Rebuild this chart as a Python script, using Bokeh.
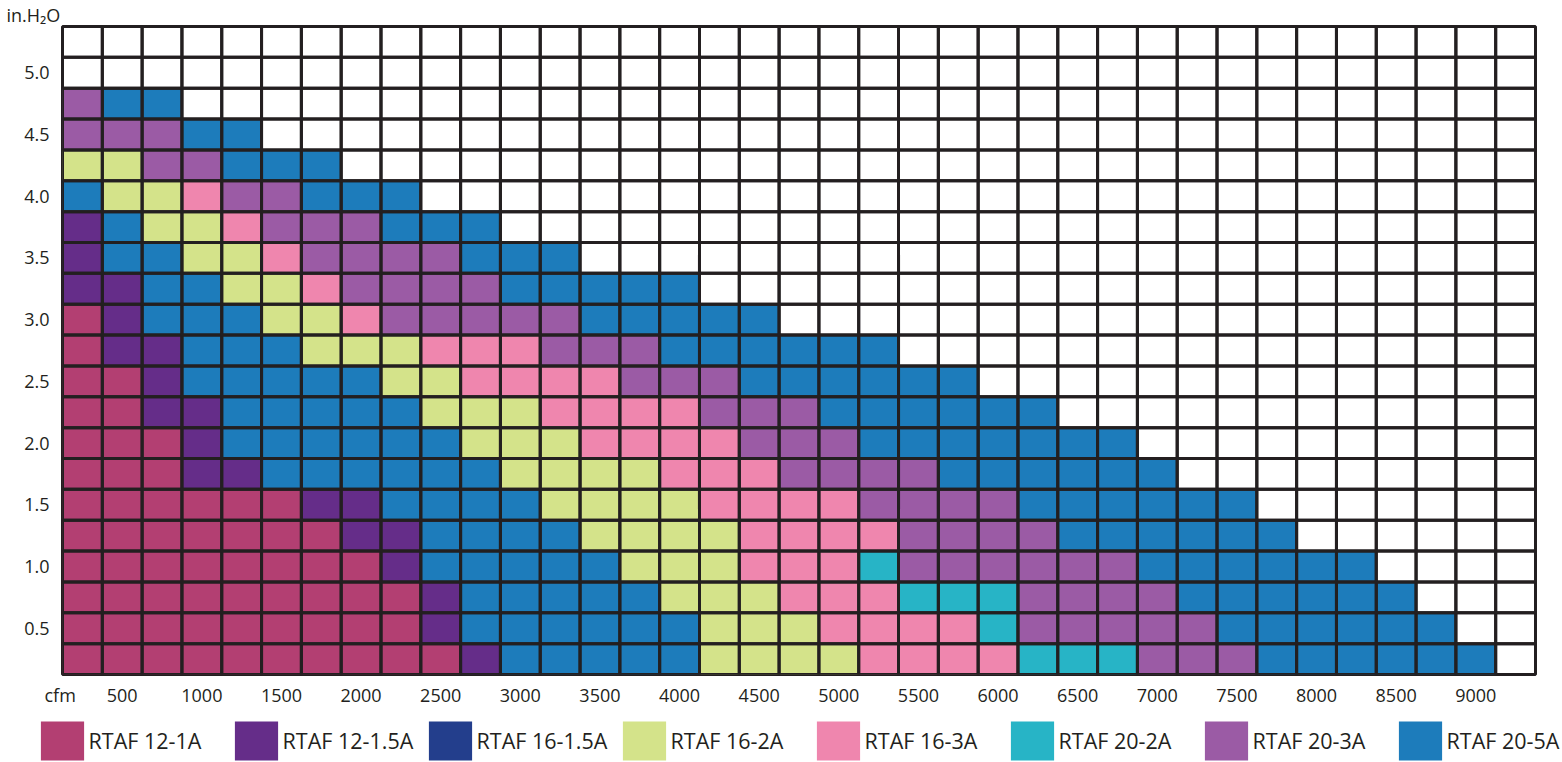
import math
from bokeh.plotting import figure
from bokeh.models import (ColumnDataSource, FixedTicker, Range1d, PrintfTickFormatter,
                          Legend, LegendItem)
from bokeh.embed import file_html
from bokeh.resources import INLINE

# ---------------- data ----------------
MODELS = ["RTAF 12-1A", "RTAF 12-1.5A", "RTAF 16-1.5A", "RTAF 16-2A",
          "RTAF 16-3A", "RTAF 20-2A", "RTAF 20-3A", "RTAF 20-5A"]
MODEL_CODES = ["a", "b", "c", "d", "e", "f", "g", "h"]
COLORS = ["#B33F72", "#652D89", "#233E8C", "#D4E38A",
          "#EF86AE", "#27B4C6", "#9B5BA5", "#1D7CBB"]

CFM_VALUES = [250 * k for k in range(1, 38)]          # 250 ... 9250 cfm (37 columns)
PRESSURE_VALUES = [0.25 * k for k in range(1, 22)]     # 0.25 ... 5.25 in.H2O (21 rows)

X_TICKS = [500, 1000, 1500, 2000, 2500, 3000, 3500, 4000, 4500,
           5000, 5500, 6000, 6500, 7000, 7500, 8000, 8500, 9000]
Y_TICKS = [0.5, 1.0, 1.5, 2.0, 2.5, 3.0, 3.5, 4.0, 4.5, 5.0]
X_UNIT = "cfm"
Y_UNIT = "in.H\u2082O"

# selected model per cell, one string per pressure row (bottom 0.25 -> top 5.25),
# one code per cfm column starting at 250 cfm; cells past the string are empty
ROWS = [
    "aaaaaaaaaabhhhhhddddeeeefffggghhhhhh",   # 0.25
    "aaaaaaaaabhhhhhhdddeeeefggggghhhhhh",    # 0.50
    "aaaaaaaaabhhhhhdddeeefffgggghhhhhh",     # 0.75
    "aaaaaaaabhhhhhdddeeefgggggghhhhhh",      # 1.00
    "aaaaaaabbhhhhddddeeeegggghhhhhh",        # 1.25
    "aaaaaabbhhhhddddeeeegggghhhhhh",         # 1.50
    "aaabbhhhhhhddddeeegggghhhhhh",           # 1.75
    "aaabhhhhhhdddeeeeggghhhhhhh",            # 2.00
    "aabbhhhhhdddeeeeggghhhhhh",              # 2.25
    "aabhhhhhddeeeeggghhhhhh",                # 2.50
    "abbhhhdddeeeggghhhhhh",                  # 2.75
    "abhhhddeggggghhhhh",                     # 3.00
    "bbhhddegggghhhhh",                       # 3.25
    "bhhddegggghhh",                          # 3.50
    "bhddeggghhh",                            # 3.75
    "hddegghhh",                              # 4.00
    "ddgghhh",                                # 4.25
    "ggghh",                                  # 4.50
    "ghh",                                    # 4.75
    "",                                       # 5.00
    "",                                       # 5.25
]

# ---------------- chart ----------------
INK = "#231F20"
FONT = "Open Sans"
W = 1562

p = figure(width=W, height=709, output_backend="svg", toolbar_location=None,
           x_range=Range1d(125, 9375), y_range=Range1d(0.125, 5.375),
           min_border_left=62, min_border_right=27, min_border_top=25, min_border_bottom=33)
p.background_fill_color = "white"
p.border_fill_color = "white"
p.outline_line_color = INK
p.outline_line_width = 3
p.grid.grid_line_color = None

sources = []
for code in MODEL_CODES:
    xs, ys = [], []
    for i, row in enumerate(ROWS):
        for j, c in enumerate(row):
            if c == code:
                xs.append(CFM_VALUES[j])
                ys.append(PRESSURE_VALUES[i])
    if not xs:                      # model not selected in any cell
        xs, ys = [math.nan], [math.nan]
    sources.append(ColumnDataSource(dict(x=xs, y=ys)))

for src, color in zip(sources, COLORS):
    p.rect(x="x", y="y", width=250, height=0.25, source=src,
           fill_color=color, line_color=None)

gx, gy = [], []
for yv in PRESSURE_VALUES:
    for xv in CFM_VALUES:
        gx.append(xv)
        gy.append(yv)
p.rect(x=gx, y=gy, width=250, height=0.25, fill_color=None,
       line_color=INK, line_width=3)

for ax in (p.xaxis[0], p.yaxis[0]):
    ax.axis_line_color = None
    ax.major_tick_line_color = None
    ax.minor_tick_line_color = None
    ax.major_tick_out = 0
    ax.major_tick_in = 0
    ax.minor_tick_out = 0
    ax.minor_tick_in = 0
    ax.major_label_text_font = FONT
    ax.major_label_text_font_size = "18px"
    ax.major_label_text_color = INK

# unit label "cfm" sits at the start of the cfm axis
p.xaxis.ticker = FixedTicker(ticks=[CFM_VALUES[0] - 125] + X_TICKS)
p.xaxis.major_label_overrides = {CFM_VALUES[0] - 125: X_UNIT + "\u00a0"}
p.yaxis.ticker = FixedTicker(ticks=Y_TICKS)
p.yaxis.formatter = PrintfTickFormatter(format="%.1f")
p.xaxis.major_label_standoff = 8
p.yaxis.major_label_standoff = 13

p.title.text = Y_UNIT
p.title.align = "left"
p.title.offset = -56
p.title.standoff = 0
p.title.vertical_align = "bottom"
p.title.text_font = FONT
p.title.text_font_size = "18px"
p.title.text_font_style = "normal"
p.title.text_color = INK

# ---------------- legend strip (separate root, same cell sources) ----------------
lf = figure(width=W, height=53, output_backend="svg", toolbar_location=None,
            x_range=Range1d(0, 1), y_range=Range1d(0, 1),
            x_axis_type=None, y_axis_type=None, title=None,
            min_border=0, min_border_left=0, min_border_right=0,
            min_border_top=0, min_border_bottom=0)
lf.outline_line_color = None
lf.background_fill_color = "white"
lf.border_fill_color = "white"
lf.grid.grid_line_color = None

items = []
for src, name, color in zip(sources, MODELS, COLORS):
    r = lf.rect(x="x", y="y", width=250, height=0.25, source=src,
                fill_color=color, line_color=None)
    items.append(LegendItem(label=name, renderers=[r]))

leg = Legend(items=items, orientation="horizontal", location=(34.6, -2.9),
             glyph_width=54, glyph_height=49, label_standoff=0, label_width=140,
             spacing=0, padding=0, margin=0,
             border_line_color=None, background_fill_alpha=0,
             label_text_font=FONT, label_text_font_size="21.5px", label_text_color=INK)
lf.add_layout(leg)

open("out.html", "w").write(file_html([p, lf], INLINE))
